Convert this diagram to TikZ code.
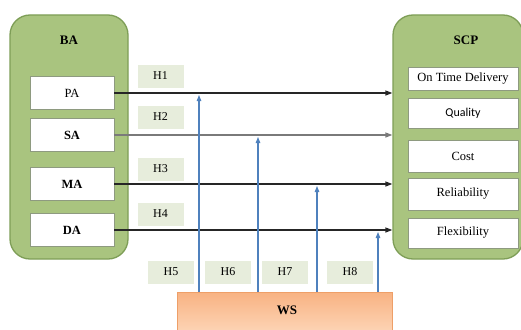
\documentclass[tikz,border=0pt]{standalone}
\usepackage{fontspec}
\setmainfont{Liberation Serif}
\newfontfamily\qualityfont{Carlito}
\usetikzlibrary{arrows.meta}

\definecolor{grpfill}{HTML}{A9C47F}
\definecolor{grpedge}{HTML}{7E9E57}
\definecolor{itemedge}{HTML}{8E9A80}
\definecolor{hypfill}{HTML}{E7EDDC}
\definecolor{linkdark}{HTML}{262626}
\definecolor{linkgray}{HTML}{7A7A7A}
\definecolor{modblue}{HTML}{4F81BD}
\definecolor{wstop}{HTML}{F8B282}
\definecolor{wsbottom}{HTML}{FDD6B8}
\definecolor{wsedge}{HTML}{EE9F68}

\tikzset{
  group/.style={draw=grpedge, fill=grpfill, line width=1.3pt, rounded corners=20pt},
  grouptitle/.style={font=\fontsize{13}{15}\selectfont\bfseries},
  item/.style={draw=itemedge, fill=white, line width=0.9pt, inner sep=0pt,
    font=\fontsize{12.5}{14}\selectfont},
  itemr/.style={item, minimum width=110pt},
  iteml/.style={item, minimum width=84pt, minimum height=33pt},
  hyp/.style={fill=hypfill, inner sep=0pt, minimum width=46pt, minimum height=23pt,
    font=\fontsize{12}{14}\selectfont},
  link/.style={-{Triangle[length=7pt,width=5pt]}, line width=1.3pt, draw=linkdark},
  modlink/.style={-{Triangle[length=6pt,width=4.5pt]}, line width=1.1pt, draw=modblue, fill=modblue},
}

\begin{document}
\begin{tikzpicture}[x=1pt,y=-1pt]
\useasboundingbox (0,0) rectangle (521,329);

% business analytics group
\node[group, minimum width=118pt, minimum height=244pt] (ba) at (69,137) {};
\node[grouptitle] (batitle) at (69,40) {BA};
\node[iteml] (pa) at (72,93) {PA};
\node[iteml, font=\fontsize{12.5}{14}\selectfont\bfseries] (sa) at (72,135) {SA};
\node[iteml, font=\fontsize{12.5}{14}\selectfont\bfseries] (ma) at (72,184) {MA};
\node[iteml, font=\fontsize{12.5}{14}\selectfont\bfseries] (da) at (72,230) {DA};

% supply chain performance group
\node[group, minimum width=130pt, minimum height=244pt] (scp) at (458,137) {};
\node[grouptitle] (scptitle) at (466,40) {SCP};
\node[itemr, minimum height=23pt] (otd) at (463,79) {On Time Delivery};
\node[itemr, minimum height=30pt, font=\qualityfont\fontsize{12}{14}\selectfont] (qual) at (463,113) {Quality};
\node[itemr, minimum height=32pt] (cost) at (463,156) {Cost};
\node[itemr, minimum height=32pt] (rel) at (463,194) {Reliability};
\node[itemr, minimum height=30pt] (flex) at (463,233) {Flexibility};

% moderator box with shaded fill
\node[draw=wsedge, line width=0.8pt, top color=wstop, bottom color=wsbottom,
  minimum width=215pt, minimum height=42pt, inner sep=0pt] (ws) at (285,313) {};
\node[grouptitle] (wstitle) at (287,310) {WS};

% hypothesis labels
\node[hyp] (h1) at (160.5,76) {H1};
\node[hyp] (h2) at (160.5,117) {H2};
\node[hyp] (h3) at (160.5,169) {H3};
\node[hyp] (h4) at (160.5,214) {H4};
\node[hyp] (h5) at (171,272) {H5};
\node[hyp] (h6) at (228,272) {H6};
\node[hyp] (h7) at (285,272) {H7};
\node[hyp] (h8) at (350,272) {H8};

% direct effects
\draw[link] (pa.east) -- (pa.east -| scp.west);
\draw[link, draw=linkgray] (sa.east) -- (sa.east -| scp.west);
\draw[link] (ma.east) -- (ma.east -| scp.west);
\draw[link] (da.east) -- (da.east -| scp.west);

% moderating effects
\coordinate (m1) at (199,95);
\coordinate (m2) at (258,137);
\coordinate (m3) at (317,186);
\coordinate (m4) at (378,232);
\draw[modlink] (m1 |- ws.north) -- (m1);
\draw[modlink] (m2 |- ws.north) -- (m2);
\draw[modlink] (m3 |- ws.north) -- (m3);
\draw[modlink] (m4 |- ws.north) -- (m4);
\end{tikzpicture}
\end{document}
